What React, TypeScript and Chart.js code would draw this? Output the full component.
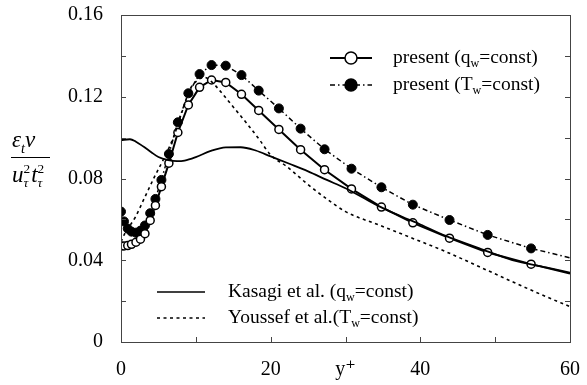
import React, { useEffect, useRef } from 'react';
import { Chart, registerables } from 'chart.js';

Chart.register(...registerables);

// ---------------- data ----------------
const gridX = [0, 0.4, 0.9, 1.4, 2.0, 2.6, 3.2, 3.9, 4.6, 5.4, 6.4, 7.6, 9.0, 10.5, 12.1, 14.0, 16.1, 18.4, 21.1, 24.0, 27.2, 30.8, 34.8, 39.0, 43.9, 49.0, 54.8, 60];
const presentQw = [0.047, 0.047, 0.0472, 0.0478, 0.0488, 0.0503, 0.053, 0.0595, 0.0668, 0.076, 0.0875, 0.1025, 0.116, 0.1246, 0.1282, 0.127, 0.1212, 0.1133, 0.104, 0.0941, 0.0843, 0.0749, 0.066, 0.0583, 0.0508, 0.0438, 0.0381, 0.0335];
const presentTw = [0.0638, 0.059, 0.0555, 0.054, 0.0535, 0.0545, 0.057, 0.063, 0.07, 0.0793, 0.092, 0.1075, 0.1217, 0.1311, 0.1355, 0.1352, 0.1306, 0.123, 0.1143, 0.1044, 0.0943, 0.0848, 0.0757, 0.0672, 0.0597, 0.0524, 0.0458, 0.0412];

const kasagiX = [0, 1.2, 2, 3, 4, 5, 6.3, 7.5, 8.5, 10, 12, 14, 16, 18, 20, 22.5, 25, 27.5, 30, 32.5, 35, 37.5, 40, 43.4, 47.9, 52.3, 56.8, 60];
const kasagiY = [0.0988, 0.0992, 0.098, 0.0956, 0.093, 0.0905, 0.089, 0.0885, 0.0888, 0.0905, 0.0935, 0.0952, 0.0953, 0.0937, 0.0908, 0.0872, 0.0835, 0.0793, 0.0752, 0.0703, 0.0655, 0.0614, 0.0575, 0.0519, 0.0458, 0.0401, 0.0365, 0.0339];

const youssefX = [0, 0.5, 1.9, 3.2, 4.5, 5.9, 7.0, 8.1, 9.2, 10.2, 11.2, 12.2, 13.2, 15, 16.8, 18.5, 20, 22.1, 25, 27.5, 30, 34.5, 39, 43.4, 47.9, 52.3, 56.8, 60];
const youssefY = [0.049, 0.053, 0.061, 0.071, 0.081, 0.091, 0.1, 0.112, 0.1235, 0.128, 0.1295, 0.127, 0.123, 0.115, 0.107, 0.099, 0.0915, 0.086, 0.077, 0.07, 0.0638, 0.0572, 0.0507, 0.0442, 0.0368, 0.0295, 0.0222, 0.0173];

const xTickLabels: Record<number, string> = { 0: '0', 20: '20', 30: 'y\u207A', 40: '40', 60: '60' };
const yTickLabels: Record<number, string> = { 0: '0', 4: '0.04', 8: '0.08', 12: '0.12', 16: '0.16' };

const legendTop = [
  { parts: [{ t: 'present (q' }, { t: 'w', sub: true }, { t: '=const)' }] },
  { parts: [{ t: 'present (T' }, { t: 'w', sub: true }, { t: '=const)' }] },
];
const legendBottom = [
  { parts: [{ t: 'Kasagi et al. (q' }, { t: 'w', sub: true }, { t: '=const)' }] },
  { parts: [{ t: 'Youssef et al.(T' }, { t: 'w', sub: true }, { t: '=const)' }] },
];

const SERIF = '"Liberation Serif", "DejaVu Serif", serif';

type Part = { t: string; sub?: boolean; sup?: boolean };

function drawRich(ctx: CanvasRenderingContext2D, x: number, y: number, parts: Part[], size: number, italic = false) {
  let cx = x;
  for (const p of parts) {
    const s = p.sub || p.sup ? size * 0.62 : size;
    ctx.font = `${italic ? 'italic ' : ''}${s}px ${SERIF}`;
    const dy = p.sub ? size * 0.28 : p.sup ? -size * 0.38 : 0;
    ctx.fillText(p.t, cx, y + dy);
    cx += ctx.measureText(p.t).width;
  }
  return cx;
}

const framePlugin = {
  id: 'frameTicks',
  afterDatasetsDraw(chart: any) {
    const { ctx, chartArea: a, scales } = chart;
    ctx.save();
    ctx.strokeStyle = '#444';
    ctx.lineWidth = 1;
    ctx.setLineDash([]);
    ctx.strokeRect(a.left + 0.5, a.top + 0.5, a.right - a.left, a.bottom - a.top);
    const L = 5;
    ctx.beginPath();
    for (const t of scales.y.ticks) {
      const py = Math.round(scales.y.getPixelForValue(t.value)) + 0.5;
      ctx.moveTo(a.left, py); ctx.lineTo(a.left + L, py);
      ctx.moveTo(a.right, py); ctx.lineTo(a.right - L, py);
    }
    for (const t of scales.x.ticks) {
      const px = Math.round(scales.x.getPixelForValue(t.value)) + 0.5;
      ctx.moveTo(px, a.bottom); ctx.lineTo(px, a.bottom - L);
    }
    ctx.stroke();
    ctx.restore();
  },
};

const legendPlugin = {
  id: 'customLegend',
  afterDraw(chart: any) {
    const { ctx } = chart;
    const ds = chart.data.datasets;
    ctx.save();
    ctx.fillStyle = '#000';
    ctx.textBaseline = 'middle';
    const size = 19.5;
    // top legend (present)
    const topRows = [58, 85];
    [2, 3].forEach((di, i) => {
      const d = ds[di];
      const y = topRows[i];
      ctx.strokeStyle = '#000';
      ctx.lineWidth = d.borderWidth;
      ctx.setLineDash(d.borderDash || []);
      ctx.beginPath(); ctx.moveTo(330, y); ctx.lineTo(372, y); ctx.stroke();
      ctx.setLineDash([]);
      ctx.beginPath();
      ctx.arc(351, y, 6, 0, Math.PI * 2);
      ctx.fillStyle = d.pointBackgroundColor;
      ctx.fill();
      ctx.lineWidth = 1.5;
      ctx.strokeStyle = '#000';
      ctx.stroke();
      ctx.fillStyle = '#000';
      drawRich(ctx, 393, y, legendTop[i].parts, size);
    });
    // bottom legend (references)
    const botRows = [292, 318];
    [0, 1].forEach((di, i) => {
      const d = ds[di];
      const y = botRows[i];
      ctx.strokeStyle = '#000';
      ctx.lineWidth = 1.3;
      ctx.setLineDash(d.borderDash || []);
      ctx.beginPath(); ctx.moveTo(157, y); ctx.lineTo(205, y); ctx.stroke();
      ctx.setLineDash([]);
      drawRich(ctx, 228, y, legendBottom[i].parts, size);
    });
    // y title
    ctx.textBaseline = 'alphabetic';
    const fs = 23;
    drawRich(ctx, 12, 147, [{ t: '\u03B5' }, { t: 't', sub: true }, { t: '\u03BD' }], fs, true);
    ctx.lineWidth = 1.2;
    ctx.beginPath(); ctx.moveTo(11, 157.5); ctx.lineTo(50, 157.5); ctx.stroke();
    // denominator: u^2_tau t^2_tau
    let cx = 12;
    const by = 182;
    const drawBase = (s: string) => {
      ctx.font = `italic ${fs}px ${SERIF}`;
      ctx.fillText(s, cx, by);
      cx += ctx.measureText(s).width;
    };
    const drawSupSub = (sup: string, sub: string) => {
      const ss = fs * 0.58;
      ctx.font = `${ss}px ${SERIF}`;
      ctx.fillText(sup, cx, by - fs * 0.4);
      const w1 = ctx.measureText(sup).width;
      ctx.font = `italic ${ss}px ${SERIF}`;
      ctx.fillText(sub, cx, by + fs * 0.22);
      const w2 = ctx.measureText(sub).width;
      cx += Math.max(w1, w2) + 1;
    };
    drawBase('u');
    drawSupSub('2', '\u03C4');
    drawBase('t');
    drawSupSub('2', '\u03C4');
    ctx.restore();
  },
};

export default function App() {
  const ref = useRef<HTMLCanvasElement | null>(null);
  useEffect(() => {
    if (!ref.current) return;
    const markerRadius = (r: number) => gridX.map((x) => (x < 59 ? r : 0));
    const chart = new Chart(ref.current, {
      type: 'line',
      data: {
        datasets: [
          {
            label: 'Kasagi et al. (qw=const)',
            data: kasagiX.map((x, i) => ({ x, y: kasagiY[i] })),
            borderColor: '#000',
            borderWidth: 1.8,
            pointRadius: 0,
            cubicInterpolationMode: 'monotone',
            fill: false,
          },
          {
            label: 'Youssef et al.(Tw=const)',
            data: youssefX.map((x, i) => ({ x, y: youssefY[i] })),
            borderColor: '#000',
            borderWidth: 1.6,
            borderDash: [3, 3.5],
            pointRadius: 0,
            cubicInterpolationMode: 'monotone',
            fill: false,
          },
          {
            label: 'present (qw=const)',
            data: gridX.map((x, i) => ({ x, y: presentQw[i] })),
            borderColor: '#000',
            borderWidth: 2,
            tension: 0,
            pointRadius: markerRadius(4),
            pointBorderWidth: 1.5,
            pointBorderColor: '#000',
            pointBackgroundColor: '#fff',
            fill: false,
          },
          {
            label: 'present (Tw=const)',
            data: gridX.map((x, i) => ({ x, y: presentTw[i] })),
            borderColor: '#000',
            borderWidth: 1.5,
            borderDash: [5, 3, 1.5, 3],
            tension: 0,
            pointRadius: markerRadius(4.5),
            pointBorderWidth: 1,
            pointBorderColor: '#000',
            pointBackgroundColor: '#000',
            fill: false,
          },
        ],
      },
      options: {
        responsive: false,
        animation: false,
        events: [],
        layout: { padding: { top: 15, right: 17, left: 0, bottom: 0 } },
        plugins: { legend: { display: false }, tooltip: { enabled: false } },
        scales: {
          x: {
            type: 'linear',
            min: 0,
            max: 60,
            ticks: {
              stepSize: 10,
              autoSkip: false,
              maxRotation: 0,
              padding: 16,
              color: '#000',
              font: { family: SERIF, size: 20 },
              callback: (v: any) => xTickLabels[Math.round(Number(v))] ?? '',
            },
            grid: { display: false, drawTicks: false },
            border: { display: false },
            afterFit: (s: any) => { s.height = 43; s.paddingLeft = 0; s.paddingRight = 0; },
          },
          y: {
            type: 'linear',
            min: 0,
            max: 0.16,
            ticks: {
              stepSize: 0.02,
              autoSkip: false,
              padding: 18,
              color: '#000',
              font: { family: SERIF, size: 20 },
              callback: (v: any) => yTickLabels[Math.round(Number(v) * 100)] ?? '',
            },
            grid: { display: false, drawTicks: false },
            border: { display: false },
            afterFit: (s: any) => { s.width = 121; s.paddingTop = 0; s.paddingBottom = 0; },
          },
        },
      },
      plugins: [framePlugin, legendPlugin],
    } as any);
    return () => chart.destroy();
  }, []);
  return (
    <div style={{ position: 'fixed', left: 0, top: 0, width: 587, height: 385, background: '#fff' }}>
      <canvas ref={ref} width={587} height={385} style={{ width: 587, height: 385 }} />
    </div>
  );
}
